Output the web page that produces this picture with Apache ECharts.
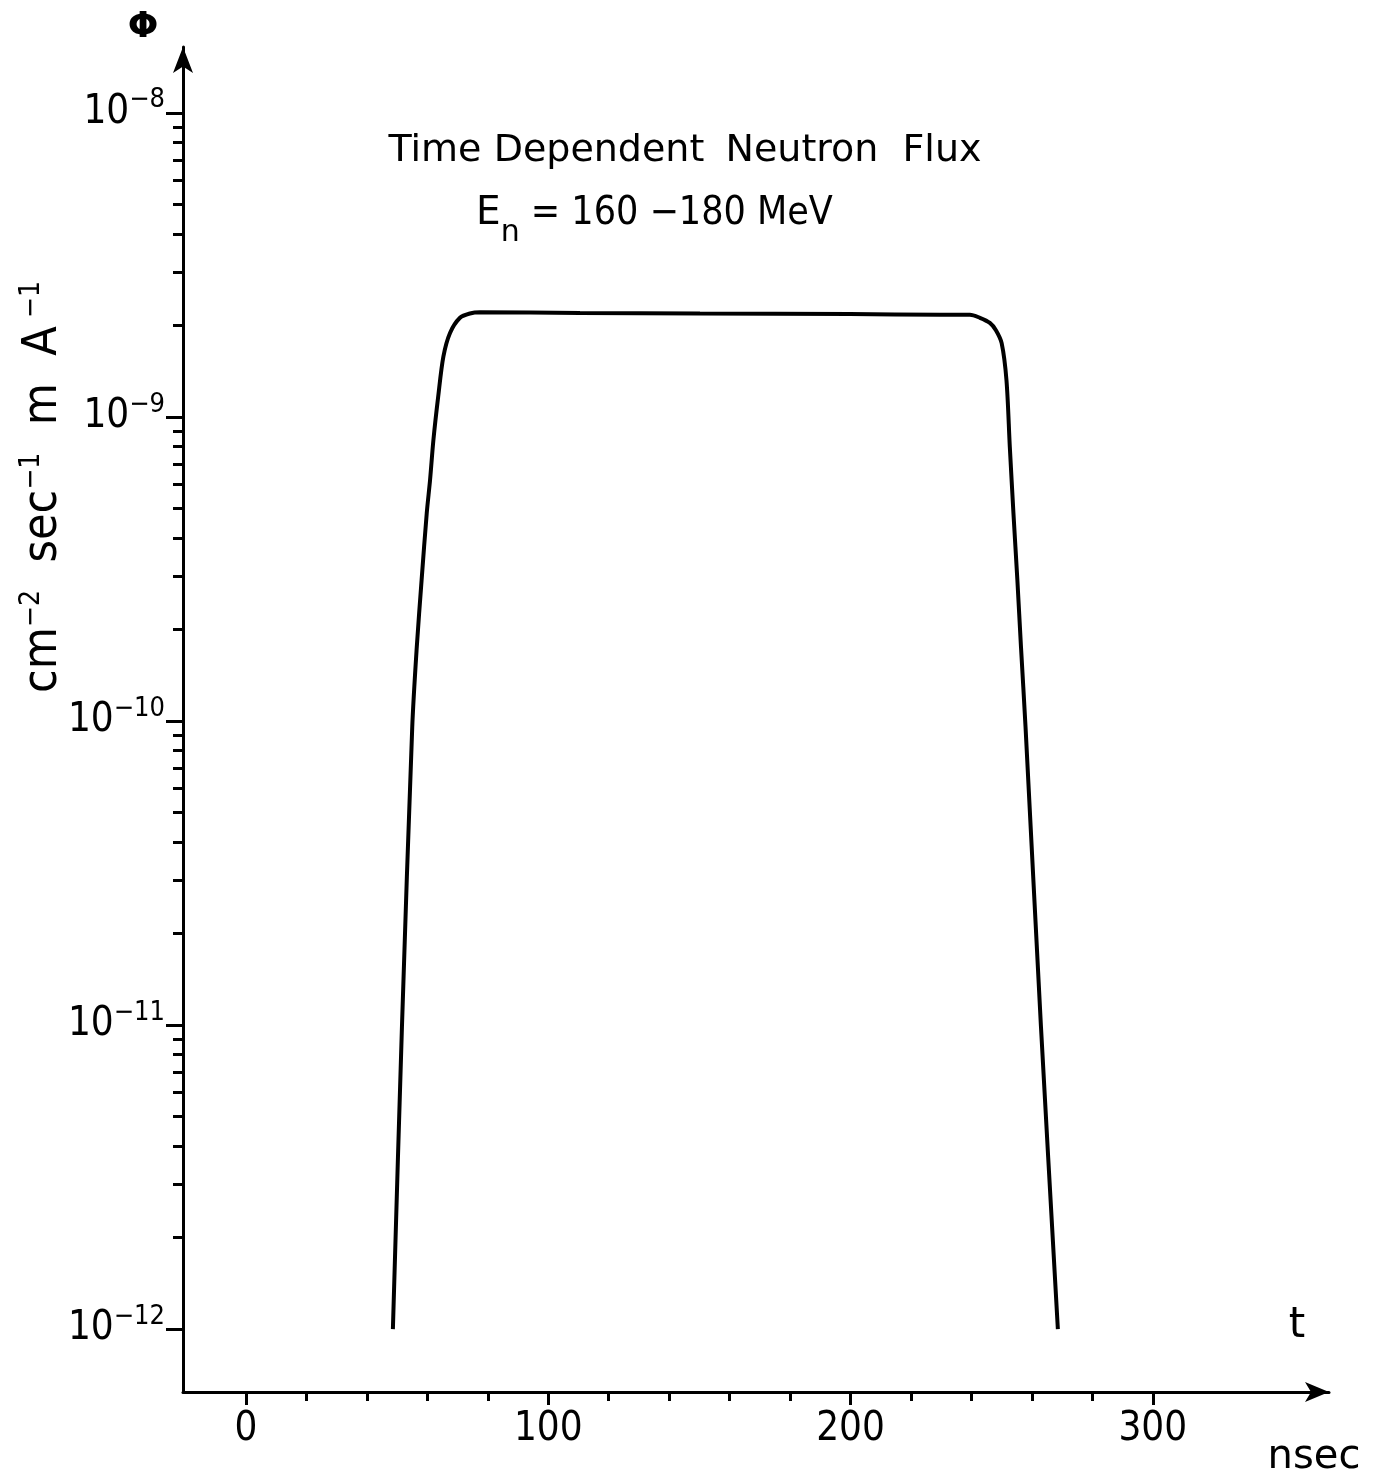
<!DOCTYPE html>
<html>
<head>
<meta charset="utf-8">
<title>Time Dependent Neutron Flux</title>
<script src="https://cdn.jsdelivr.net/npm/echarts@6/dist/echarts.min.js"></script>
<style>
  html, body { margin: 0; padding: 0; background: #fff; }
  #chart { width: 1380px; height: 1481px; }
</style>
</head>
<body>
<div id="chart"></div>
<script>
// Time after the pulse (nsec) and neutron flux (cm^-2 sec^-1 mA^-1), E_n = 160-180 MeV
const timeNs = [48.6, 51.6, 55.0, 56.5, 58.1, 59.8, 60.9, 62.0, 63.6, 65.3, 67.5, 70.8, 74.1, 77.4,
  110.5, 150.2, 199.8, 229.6, 239.5, 242.8, 246.1, 248.1, 250.0, 251.6, 252.7, 253.9, 255.2,
  256.4, 257.9, 263.0, 268.6];
const flux = [1.0e-12, 9.9e-12, 9.55e-11, 1.75e-10, 2.91e-10, 4.83e-10, 6.21e-10, 8.39e-10, 1.17e-9,
  1.58e-9, 1.89e-9, 2.12e-9, 2.19e-9, 2.21e-9,
  2.20e-9, 2.19e-9, 2.18e-9, 2.17e-9, 2.17e-9, 2.12e-9, 2.04e-9, 1.93e-9, 1.75e-9, 1.32e-9, 7.98e-10,
  4.83e-10, 2.91e-10, 1.75e-10, 9.57e-11, 9.9e-12, 1.0e-12];

// Tick positions
const xMajorTicks = [0, 100, 200, 300];
const xMinorTicks = [20, 40, 60, 80, 120, 140, 160, 180, 220, 240, 260, 280];
const yDecades = [-12, -11, -10, -9, -8];
const yMantissas = [2, 3, 4, 5, 6, 7, 8, 9];

const yMajorTicks = yDecades.map(e => Math.pow(10, e));
const yMinorTicks = [];
yDecades.slice(0, -1).forEach(e => yMantissas.forEach(m => yMinorTicks.push(m * Math.pow(10, e))));

const xMin = -20.84, xMax = 358.3;
const yMin = Math.pow(10, -12.207), yMax = Math.pow(10, -7.783);

const INK = '#000';
const NUM_FONT = '"DejaVu Sans Condensed", "Liberation Sans", sans-serif';
const TXT_FONT = '"DejaVu Sans", "Liberation Sans", sans-serif';

const chart = echarts.init(document.getElementById('chart'), null, { renderer: 'canvas' });

const series = [{
  type: 'line',
  data: timeNs.map((t, i) => [t, flux[i]]),
  showSymbol: false,
  smooth: 0.3,
  lineStyle: { color: INK, width: 4 },
  silent: true,
  animation: false
}];

const option = {
  backgroundColor: '#fff',
  animation: false,
  grid: { left: 183, right: 51, top: 47, bottom: 89, containLabel: false },
  xAxis: [{
    type: 'value', min: xMin, max: xMax, position: 'bottom',
    axisLine: { show: true, onZero: false, symbol: ['none', 'arrow'], symbolSize: [15, 24],
      lineStyle: { color: INK, width: 3 } },
    axisTick: { show: true, customValues: xMajorTicks, length: 13, lineStyle: { color: INK, width: 3 } },
    axisLabel: { show: true, customValues: xMajorTicks, margin: 18, color: INK,
      fontSize: 40, fontFamily: NUM_FONT },
    splitLine: { show: false }
  }, {
    type: 'value', min: xMin, max: xMax, position: 'bottom', offset: 0,
    axisLine: { show: false, onZero: false },
    axisTick: { show: true, customValues: xMinorTicks, length: 9, lineStyle: { color: INK, width: 3 } },
    axisLabel: { show: false },
    splitLine: { show: false }
  }],
  yAxis: [{
    type: 'log', min: yMin, max: yMax, position: 'left',
    axisLine: { show: true, onZero: false, symbol: ['none', 'arrow'], symbolSize: [15, 26],
      lineStyle: { color: INK, width: 3 } },
    axisTick: { show: true, customValues: yMajorTicks, length: 17, lineStyle: { color: INK, width: 3 } },
    axisLabel: {
      show: true, customValues: yMajorTicks, margin: 18, color: INK,
      formatter: v => '{b|10}{s|\u2212' + Math.round(Math.log10(v)) * -1 + '}',
      rich: {
        b: { fontSize: 40, fontFamily: NUM_FONT, color: INK, lineHeight: 52 },
        s: { fontSize: 27, fontFamily: NUM_FONT, color: INK, verticalAlign: 'top', lineHeight: 22 }
      }
    },
    splitLine: { show: false }
  }, {
    type: 'log', min: yMin, max: yMax, position: 'left', offset: 0,
    axisLine: { show: false, onZero: false },
    axisTick: { show: true, customValues: yMinorTicks, length: 10, lineStyle: { color: INK, width: 3 } },
    axisLabel: { show: false },
    splitLine: { show: false }
  }],
  series: series,
  graphic: [
    // title, one word at a time
    { type: 'text', x: 435, y: 151, style: { text: 'Time', fontSize: 38, fontFamily: TXT_FONT, fill: INK, align: 'center', verticalAlign: 'middle' } },
    { type: 'text', x: 599, y: 151, style: { text: 'Dependent', fontSize: 38, fontFamily: TXT_FONT, fill: INK, align: 'center', verticalAlign: 'middle' } },
    { type: 'text', x: 802, y: 151, style: { text: 'Neutron', fontSize: 38, fontFamily: TXT_FONT, fill: INK, align: 'center', verticalAlign: 'middle' } },
    { type: 'text', x: 942, y: 151, style: { text: 'Flux', fontSize: 38, fontFamily: TXT_FONT, fill: INK, align: 'center', verticalAlign: 'middle' } },
    // energy range
    { type: 'text', x: 476, y: 214, style: {
      text: '{e|E}{n|n}{r| = 160 \u2212180 MeV}',
      align: 'left', verticalAlign: 'middle',
      rich: {
        e: { fontSize: 39, fontFamily: TXT_FONT, color: INK, lineHeight: 44 },
        n: { fontSize: 30, fontFamily: TXT_FONT, color: INK, verticalAlign: 'bottom', lineHeight: 30, padding: [0, 0, -12, 0] },
        r: { fontSize: 39, fontFamily: NUM_FONT, color: INK, lineHeight: 44 }
      } } },
    // axis symbols
    { type: 'text', x: 143, y: 28, style: { text: '\u03A6', fontSize: 36, fontFamily: TXT_FONT, fontWeight: 'bold', fill: INK, align: 'center', verticalAlign: 'middle' } },
    { type: 'text', x: 1297, y: 1326, style: { text: 't', fontSize: 42, fontFamily: TXT_FONT, fill: INK, align: 'center', verticalAlign: 'middle' } },
    { type: 'text', x: 1314, y: 1458, style: { text: 'nsec', fontSize: 40, fontFamily: TXT_FONT, fill: INK, align: 'center', verticalAlign: 'middle' } },
    // y-axis unit, rotated
    { type: 'text', x: 44, y: 487, rotation: Math.PI / 2, style: {
      text: '{m|cm}{s|\u22122}{m|  sec}{s|\u22121}{m|  m  A}{s| \u22121}',
      align: 'center', verticalAlign: 'middle',
      rich: {
        m: { fontSize: 48, fontFamily: NUM_FONT, color: INK, lineHeight: 52 },
        s: { fontSize: 28, fontFamily: NUM_FONT, color: INK, verticalAlign: 'top', lineHeight: 26 }
      } } }
  ]
};

chart.setOption(option);
</script>
</body>
</html>
